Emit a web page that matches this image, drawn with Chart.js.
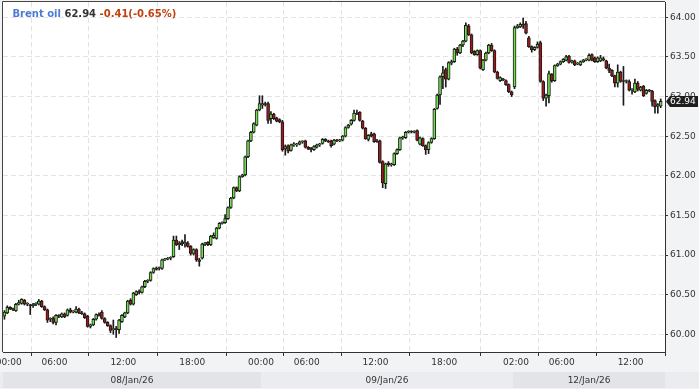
<!DOCTYPE html>
<html><head><meta charset="utf-8">
<script src="https://cdn.jsdelivr.net/npm/chart.js@4.4.1/dist/chart.umd.min.js"></script>
<style>html,body{margin:0;padding:0;background:#f2f3f5;}canvas{display:block;}</style>
</head><body>
<canvas id="c" width="699" height="389"></canvas>
<script>
const instrument = 'Brent oil';
const lastPrice = 62.94;
const changeText = '-0.41(-0.65%)';

const opens = [60.23,60.27,60.34,60.32,60.30,60.38,60.39,60.43,60.38,60.37,60.36,60.38,60.38,60.42,60.35,60.31,60.19,60.20,60.15,60.24,60.22,60.26,60.24,60.31,60.28,60.28,60.32,60.27,60.26,60.23,60.10,60.12,60.19,60.25,60.28,60.20,60.15,60.11,60.06,60.07,60.06,60.16,60.22,60.27,60.43,60.38,60.50,60.54,60.53,60.60,60.67,60.68,60.78,60.83,60.83,60.83,60.94,60.95,60.96,60.98,61.19,61.13,61.17,61.14,61.15,61.11,61.02,61.07,60.94,60.96,61.14,61.16,61.13,61.22,61.21,61.34,61.40,61.41,61.46,61.60,61.72,61.85,61.81,61.99,62.01,62.24,62.44,62.55,62.64,62.83,62.89,62.91,62.91,62.72,62.78,62.73,62.71,62.68,62.34,62.38,62.32,62.39,62.39,62.40,62.43,62.44,62.36,62.34,62.33,62.36,62.39,62.41,62.46,62.44,62.44,62.40,62.45,62.44,62.45,62.50,62.61,62.65,62.70,62.79,62.80,62.69,62.60,62.46,62.53,62.53,62.44,62.44,62.18,61.90,62.16,62.14,62.14,62.28,62.33,62.48,62.48,62.55,62.56,62.55,62.57,62.40,62.47,62.38,62.33,62.42,62.47,62.85,63.02,63.25,63.34,63.22,63.42,63.44,63.60,63.55,63.65,63.70,63.89,63.78,63.57,63.53,63.58,63.34,63.46,63.55,63.65,63.58,63.31,63.20,63.22,63.20,63.15,63.06,63.12,63.87,63.88,63.91,63.92,63.74,63.63,63.59,63.62,63.68,63.19,62.98,63.01,63.28,63.20,63.39,63.41,63.44,63.46,63.51,63.44,63.45,63.41,63.40,63.44,63.46,63.46,63.53,63.49,63.44,63.45,63.48,63.45,63.36,63.33,63.26,63.17,63.31,63.20,63.19,63.19,63.08,63.06,63.17,63.08,63.13,63.04,63.08,63.07,62.95,62.88,62.88];
const highs = [60.30,60.36,60.35,60.33,60.39,60.43,60.45,60.44,60.40,60.38,60.39,60.40,60.44,60.43,60.36,60.32,60.21,60.22,60.25,60.25,60.27,60.27,60.32,60.33,60.30,60.35,60.33,60.29,60.27,60.24,60.13,60.20,60.26,60.27,60.30,60.21,60.16,60.12,60.18,60.10,60.19,60.25,60.28,60.43,60.45,60.53,60.55,60.56,60.61,60.68,60.69,60.79,60.84,60.85,60.85,60.95,60.96,60.97,60.98,61.24,61.24,61.17,61.19,61.26,61.17,61.12,61.08,61.08,60.96,61.15,61.16,61.17,61.25,61.28,61.35,61.41,61.42,61.51,61.61,61.73,61.86,61.86,62.00,62.02,62.25,62.45,62.56,62.67,62.84,63.01,63.01,62.93,62.93,62.81,62.79,62.74,62.72,62.70,62.39,62.39,62.40,62.42,62.41,62.44,62.44,62.45,62.37,62.36,62.38,62.40,62.41,62.47,62.47,62.45,62.45,62.46,62.46,62.46,62.51,62.62,62.65,62.71,62.83,62.83,62.81,62.70,62.61,62.52,62.55,62.54,62.46,62.45,62.19,62.16,62.18,62.16,62.29,62.34,62.49,62.50,62.56,62.57,62.57,62.57,62.58,62.49,62.48,62.39,62.43,62.48,62.85,63.03,63.26,63.38,63.36,63.44,63.46,63.61,63.62,63.66,63.71,63.93,63.91,63.79,63.58,63.59,63.59,63.47,63.56,63.66,63.67,63.59,63.32,63.25,63.23,63.21,63.16,63.07,63.89,63.91,63.93,63.99,63.95,63.76,63.64,63.63,63.69,63.70,63.20,63.03,63.32,63.29,63.40,63.42,63.45,63.48,63.52,63.52,63.46,63.46,63.43,63.45,63.47,63.48,63.54,63.54,63.50,63.50,63.52,63.50,63.46,63.41,63.34,63.27,63.40,63.32,63.38,63.21,63.21,63.10,63.22,63.19,63.13,63.14,63.09,63.09,63.08,62.96,62.91,62.97];
const lows = [60.19,60.26,60.31,60.30,60.29,60.37,60.38,60.37,60.36,60.25,60.34,60.36,60.37,60.34,60.30,60.15,60.16,60.13,60.12,60.21,60.21,60.21,60.23,60.27,60.27,60.27,60.26,60.25,60.20,60.09,60.08,60.11,60.18,60.23,60.19,60.14,60.10,60.02,60.00,59.96,60.01,60.15,60.21,60.26,60.37,60.37,60.49,60.51,60.52,60.59,60.65,60.67,60.77,60.81,60.81,60.82,60.93,60.94,60.94,60.97,61.12,61.07,61.12,61.10,61.10,61.00,61.00,60.92,60.86,60.95,61.12,61.12,61.12,61.21,61.20,61.33,61.39,61.40,61.45,61.59,61.71,61.80,61.80,61.98,62.00,62.23,62.43,62.54,62.63,62.82,62.85,62.88,62.66,62.66,62.71,62.68,62.67,62.31,62.26,62.29,62.31,62.37,62.37,62.39,62.41,62.35,62.33,62.30,62.32,62.35,62.37,62.40,62.43,62.42,62.36,62.39,62.43,62.43,62.44,62.49,62.60,62.64,62.69,62.77,62.69,62.59,62.46,62.44,62.49,62.42,62.42,62.16,61.85,61.84,62.12,62.12,62.13,62.27,62.32,62.46,62.47,62.54,62.54,62.54,62.44,62.39,62.37,62.27,62.28,62.41,62.46,62.84,62.90,63.10,63.12,63.21,63.40,63.43,63.52,63.54,63.63,63.69,63.77,63.54,63.52,63.52,63.35,63.33,63.45,63.54,63.57,63.30,63.22,63.19,63.20,63.14,63.05,63.00,63.10,63.86,63.87,63.86,63.79,63.62,63.56,63.58,63.61,63.18,62.95,62.88,62.92,63.18,63.19,63.38,63.40,63.43,63.45,63.42,63.42,63.39,63.40,63.39,63.43,63.45,63.45,63.45,63.43,63.43,63.44,63.45,63.35,63.30,63.25,63.12,63.12,63.18,62.89,63.17,63.07,63.03,63.05,63.07,63.07,63.00,63.03,63.06,62.88,62.79,62.79,62.86];
const closes = [60.28,60.34,60.32,60.31,60.38,60.40,60.44,60.38,60.39,60.36,60.38,60.39,60.42,60.35,60.31,60.18,60.20,60.15,60.24,60.23,60.26,60.22,60.31,60.28,60.28,60.32,60.27,60.26,60.21,60.10,60.12,60.19,60.25,60.24,60.20,60.15,60.11,60.05,60.07,60.06,60.18,60.24,60.27,60.42,60.38,60.52,60.54,60.53,60.60,60.67,60.68,60.78,60.83,60.82,60.83,60.94,60.95,60.96,60.96,61.19,61.13,61.15,61.14,61.16,61.11,61.02,61.07,60.94,60.92,61.14,61.15,61.13,61.24,61.25,61.34,61.40,61.41,61.46,61.60,61.72,61.85,61.81,61.99,62.01,62.24,62.44,62.55,62.66,62.83,62.91,62.91,62.90,62.70,62.78,62.72,62.69,62.68,62.33,62.37,62.31,62.39,62.39,62.40,62.43,62.43,62.36,62.34,62.33,62.37,62.39,62.39,62.46,62.44,62.43,62.38,62.45,62.44,62.45,62.50,62.61,62.64,62.70,62.79,62.78,62.70,62.60,62.47,62.51,62.50,62.43,62.43,62.17,61.91,62.15,62.14,62.15,62.28,62.33,62.48,62.48,62.55,62.56,62.55,62.56,62.45,62.48,62.38,62.33,62.42,62.47,62.84,63.02,63.25,63.30,63.22,63.43,63.44,63.60,63.55,63.65,63.70,63.90,63.78,63.55,63.53,63.58,63.36,63.46,63.55,63.65,63.58,63.31,63.23,63.24,63.21,63.15,63.06,63.02,63.87,63.89,63.91,63.90,63.80,63.63,63.59,63.62,63.66,63.19,62.98,63.02,63.29,63.20,63.39,63.41,63.44,63.47,63.50,63.43,63.44,63.40,63.42,63.44,63.46,63.46,63.52,63.46,63.44,63.49,63.49,63.46,63.36,63.33,63.26,63.17,63.31,63.19,63.19,63.19,63.08,63.08,63.17,63.09,63.12,63.01,63.08,63.07,62.94,62.87,62.90,62.94];

const xTickSlots = [2,18,42,66,90,106,130,154,179,195,219];
const xTickLabels = ['00:00','06:00','12:00','18:00','00:00','06:00','12:00','18:00','02:00','06:00','12:00'];
const dayLabels = ['08/Jan/26','09/Jan/26','12/Jan/26'];
const dayStartSlots = [0,90,178];
const dayEndSlots = [90,178,231];
const yTickValues = [60,60.5,61,61.5,62,62.5,63,63.5,64];

Chart.defaults.font.family = '"DejaVu Sans", sans-serif';
Chart.defaults.font.size = 9;

const wickData = lows.map((l,i)=>({x:i+0.5, y:[l, highs[i]]}));
const bodyData = opens.map((o,i)=>({x:i+0.5, y:[o, closes[i]]}));
const bodyColors = opens.map((o,i)=> closes[i] >= o ? '#72df4e' : '#9e1a1a');

const decor = {
  id:'decor',
  beforeDraw(chart){
    const {ctx, chartArea:a, scales:{x}} = chart;
    ctx.save();
    ctx.fillStyle = '#f2f3f5';
    ctx.fillRect(0,0,chart.width,chart.height);
    ctx.fillStyle = '#ffffff';
    ctx.fillRect(a.left, a.top, a.right-a.left, a.bottom-a.top);
    const bandTop = a.bottom + 20, bandH = chart.height - bandTop - 1;
    ctx.fillStyle = '#eaecef';
    ctx.fillRect(0, bandTop, chart.width, bandH);
    ctx.font = '9px "DejaVu Sans"';
    ctx.textAlign = 'center';
    ctx.textBaseline = 'middle';
    dayLabels.forEach((lab,i)=>{
      const x0 = x.getPixelForValue(dayStartSlots[i]);
      const x1 = x.getPixelForValue(dayEndSlots[i]);
      if (i % 2 === 0){ ctx.fillStyle = '#e2e4e8'; ctx.fillRect(x0, bandTop, x1-x0, bandH); }
      ctx.fillStyle = '#333';
      ctx.fillText(lab, (x0+x1)/2, bandTop + bandH/2 + 0.5);
    });
    ctx.restore();
  },
  afterDraw(chart){
    const {ctx, chartArea:a, scales:{y}} = chart;
    ctx.save();
    ctx.strokeStyle = '#444';
    ctx.lineWidth = 1;
    ctx.beginPath();
    ctx.moveTo(a.left-0.5, a.bottom); ctx.lineTo(a.left-0.5, a.top-0.5); ctx.lineTo(a.right, a.top-0.5);
    ctx.stroke();
    // title
    ctx.font = 'bold 10px "DejaVu Sans"';
    ctx.textBaseline = 'alphabetic';
    ctx.textAlign = 'left';
    let tx = 12.5;
    const parts = [[instrument+' ', '#4a7bd5'], [lastPrice.toFixed(2)+' ', '#333333'], [changeText, '#c2410f']];
    parts.forEach(([t,c])=>{ ctx.fillStyle = c; ctx.fillText(t, tx, 17); tx += ctx.measureText(t).width; });
    // last price marker
    const yc = Math.round(y.getPixelForValue(lastPrice)) + 0.5;
    ctx.fillStyle = '#1e1e1e';
    ctx.beginPath();
    ctx.moveTo(a.right+1, yc);
    ctx.lineTo(a.right+5, yc-5.5);
    ctx.lineTo(chart.width-1, yc-5.5);
    ctx.lineTo(chart.width-1, yc+5.5);
    ctx.lineTo(a.right+5, yc+5.5);
    ctx.closePath();
    ctx.fill();
    ctx.fillStyle = '#ffffff';
    ctx.font = '9px "DejaVu Sans"';
    ctx.textBaseline = 'middle';
    ctx.fillText(lastPrice.toFixed(2), a.right+5, yc+0.5);
    ctx.restore();
  }
};

new Chart(document.getElementById('c'), {
  type:'bar',
  data:{ datasets:[
    { label:'body', data:bodyData, backgroundColor:bodyColors, borderColor:'#1a1a1a', borderWidth:1, borderSkipped:false, barThickness:3, minBarLength:1, grouped:false },
    { label:'wick', data:wickData, backgroundColor:'#1a1a1a', borderWidth:0, barThickness:1, grouped:false }
  ]},
  options:{
    responsive:false, animation:false, devicePixelRatio:1,
    layout:{ padding:{ left:3, top:2, right:0, bottom:0 } },
    plugins:{ legend:{display:false}, tooltip:{enabled:false}, title:{display:false} },
    scales:{
      x:{ type:'linear', min:0, max:231, offset:false,
        afterBuildTicks(s){ s.ticks = xTickSlots.map(v=>({value:v})); },
        afterFit(s){ s.height = 37; s.paddingLeft = 0; s.paddingRight = 0; },
        ticks:{ autoSkip:false, maxRotation:0, padding:1, color:'#333', font:{size:9}, callback:(v,i)=>xTickLabels[i] },
        grid:{ color:'#e3e3e3', tickColor:'#333', tickLength:4 },
        border:{ color:'#333', dash:[5,3] }
      },
      y:{ position:'right', min:59.777, max:64.193,
        afterBuildTicks(s){ s.ticks = yTickValues.map(v=>({value:v})); },
        afterFit(s){ s.width = 34; s.paddingTop = 0; s.paddingBottom = 0; },
        ticks:{ padding:2, color:'#333', font:{size:9}, callback:v=>Number(v).toFixed(2) },
        grid:{ color:'#e3e3e3', tickColor:'#333', tickLength:3 },
        border:{ color:'#333', dash:[5,3] }
      }
    }
  },
  plugins:[decor]
});
</script>
</body></html>
